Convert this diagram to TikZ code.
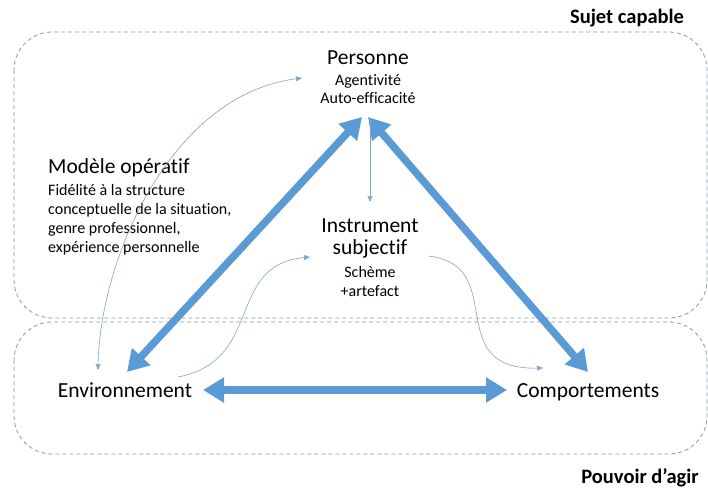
\documentclass[tikz,border=0pt]{standalone}
\usepackage{fontspec}
\setmainfont{Carlito}[Ligatures={NoCommon}]
\usetikzlibrary{arrows.meta}
\definecolor{ablue}{HTML}{5B9BD5}
\definecolor{tblue}{HTML}{7FA7CC}
\definecolor{dgray}{HTML}{8A9BAD}
\begin{document}
\begin{tikzpicture}[x=1pt,y=-1pt,
  zone/.style={draw=dgray,dashed,dash pattern=on 4pt off 3pt,line width=0.8pt,rounded corners=38pt},
  big/.style={draw=ablue,line width=7.5pt,{Triangle[length=21pt,width=24pt]}-{Triangle[length=21pt,width=24pt]}},
  thin/.style={draw=tblue,line width=0.6pt},
  tip/.style={-{Triangle[length=6pt,width=5pt]}},
  title/.style={font=\fontsize{21.5}{23}\selectfont,inner sep=0pt,anchor=base},
  sub/.style={font=\fontsize{16}{19}\selectfont,inner sep=0pt,anchor=base},
  lab/.style={font=\bfseries\fontsize{20.5}{22}\selectfont,inner sep=0pt,anchor=base}]
\useasboundingbox (0,0) rectangle (708,488);
\fill[white] (0,0) rectangle (708,488);
% zones
\draw[zone] (14,32) rectangle (707,318);
\draw[zone] (14,322) rectangle (707,454);
\node[lab] (sc) at (627,23) {Sujet capable};
\node[lab] (pa) at (640,483) {Pouvoir d’agir};
% Personne
\node[title] (pers) at (368,64) {Personne};
\node[sub] (pers1) at (368,85) {Agentivité};
\node[sub] (pers2) at (368,103) {Auto-efficacité};
\coordinate (pA) at (362,117);
\coordinate (pB) at (368,117);
\coordinate (pC) at (370,120);
\coordinate (pL) at (302,78);
% Instrument
\node[title] (inst) at (370,232) {Instrument};
\node[title] (inst2) at (370,254) {subjectif};
\node[sub] (inst3) at (370,277) {Schème};
\node[sub] (inst4) at (370,296) {+artefact};
\coordinate (iT) at (370,202);
\coordinate (iL) at (310,257);
\coordinate (iR) at (428,256);
% Environnement
\node[title] (env) at (125,397) {Environnement};
\coordinate (eT) at (127,372);
\coordinate (eL) at (98,370);
\coordinate (eR) at (178,377);
\coordinate (eE) at (203,390);
% Comportements
\node[title] (comp) at (588,397) {Comportements};
\coordinate (cT) at (588,372);
\coordinate (cL) at (543,368);
\coordinate (cW) at (507,390);
% Modele operatif
\node[title,anchor=base west] (mod) at (48,173) {Modèle opératif};
\node[sub,anchor=base west] (mod1) at (48,195) {Fidélité à la structure};
\node[sub,anchor=base west] (mod2) at (48,214) {conceptuelle de la situation,};
\node[sub,anchor=base west] (mod3) at (48,233) {genre professionnel,};
\node[sub,anchor=base west] (mod4) at (48,252) {expérience personnelle};
% thick arrows
\draw[big] (eT) -- (pA);
\draw[big] (cT) -- (pB);
\draw[big] (eE) -- (cW);
% thin arrows
\draw[thin,tip] (pC) -- (iT);
\draw[thin,{Triangle[length=6pt,width=5pt]}-{Triangle[length=6pt,width=5pt]}] (pL) .. controls (170,95) and (100,260) .. (eL);
\draw[thin,tip] (eR) .. controls (265,360) and (225,265) .. (iL);
\draw[thin,tip] (iR) .. controls (510,265) and (440,370) .. (cL);
\end{tikzpicture}
\end{document}
